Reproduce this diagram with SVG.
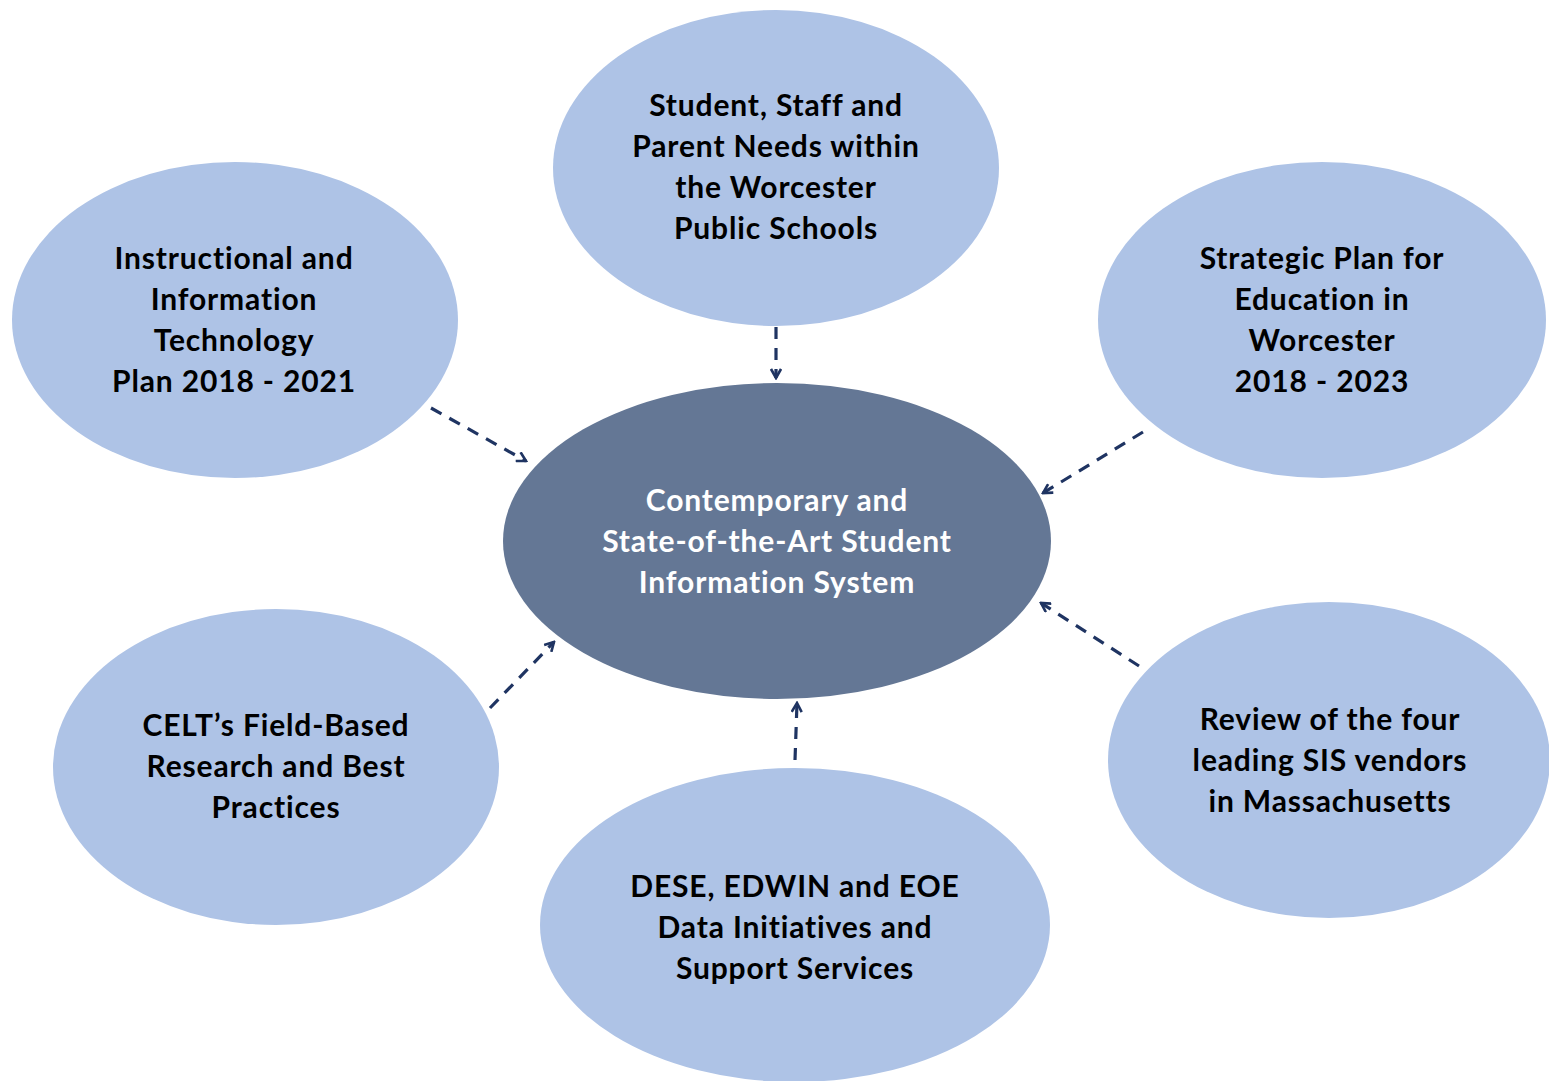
<svg xmlns="http://www.w3.org/2000/svg" width="1549" height="1081" viewBox="0 0 1549 1081">
<style>
.n{fill:#aec3e6}
.c{fill:#647795}
text{font-family:Lato,"Liberation Sans",sans-serif;font-weight:bold;font-size:30px;letter-spacing:0.85px;text-anchor:middle;fill:#000}
.w{fill:#fff}
.e{stroke:#1f3462;stroke-width:3.2;stroke-dasharray:12 9;fill:none;marker-end:url(#ah)}
</style>
<defs>
<marker id="ah" viewBox="0 0 12 12" refX="10" refY="6" markerWidth="12" markerHeight="12" markerUnits="userSpaceOnUse" orient="auto">
<path d="M1,1 L10,6 L1,11" fill="none" stroke="#1f3462" stroke-width="2.6"/>
</marker>
</defs>
<rect width="1549" height="1081" fill="#fff"/>
<g id="connectors">
<path class="e" d="M776,327 L776,378"/>
<path class="e" d="M431,408 L526,461"/>
<path class="e" d="M1143,432 L1043,493"/>
<path class="e" d="M490,708 L554,642"/>
<path class="e" d="M795,760 L797,703"/>
<path class="e" d="M1139,666 L1041,603"/>
</g>
<g id="n-top">
<ellipse class="n" cx="776" cy="168" rx="223" ry="158"/>
<text x="776" y="116">Student, Staff and</text>
<text x="776" y="157">Parent Needs within</text>
<text x="776" y="198">the Worcester</text>
<text x="776" y="239">Public Schools</text>
</g>
<g id="n-left-top">
<ellipse class="n" cx="235" cy="320" rx="223" ry="158"/>
<text x="234" y="269">Instructional and</text>
<text x="234" y="310">Information</text>
<text x="234" y="351">Technology</text>
<text x="234" y="392">Plan 2018 - 2021</text>
</g>
<g id="n-right-top">
<ellipse class="n" cx="1322" cy="320" rx="224" ry="158"/>
<text x="1322" y="269">Strategic Plan for</text>
<text x="1322" y="310">Education in</text>
<text x="1322" y="351">Worcester</text>
<text x="1322" y="392">2018 - 2023</text>
</g>
<g id="n-center">
<ellipse class="c" cx="777" cy="541" rx="274" ry="158"/>
<text class="w" x="777" y="511">Contemporary and</text>
<text class="w" x="777" y="552">State-of-the-Art Student</text>
<text class="w" x="777" y="593">Information System</text>
</g>
<g id="n-left-bottom">
<ellipse class="n" cx="276" cy="767" rx="223" ry="158"/>
<text x="276" y="736">CELT’s Field-Based</text>
<text x="276" y="777">Research and Best</text>
<text x="276" y="818">Practices</text>
</g>
<g id="n-bottom">
<ellipse class="n" cx="795" cy="925" rx="255" ry="157"/>
<text x="795" y="897">DESE, EDWIN and EOE</text>
<text x="795" y="938">Data Initiatives and</text>
<text x="795" y="979">Support Services</text>
</g>
<g id="n-right-bottom">
<ellipse class="n" cx="1329" cy="760" rx="221" ry="158"/>
<text x="1330" y="730">Review of the four</text>
<text x="1330" y="771">leading SIS vendors</text>
<text x="1330" y="812">in Massachusetts</text>
</g>
</svg>
